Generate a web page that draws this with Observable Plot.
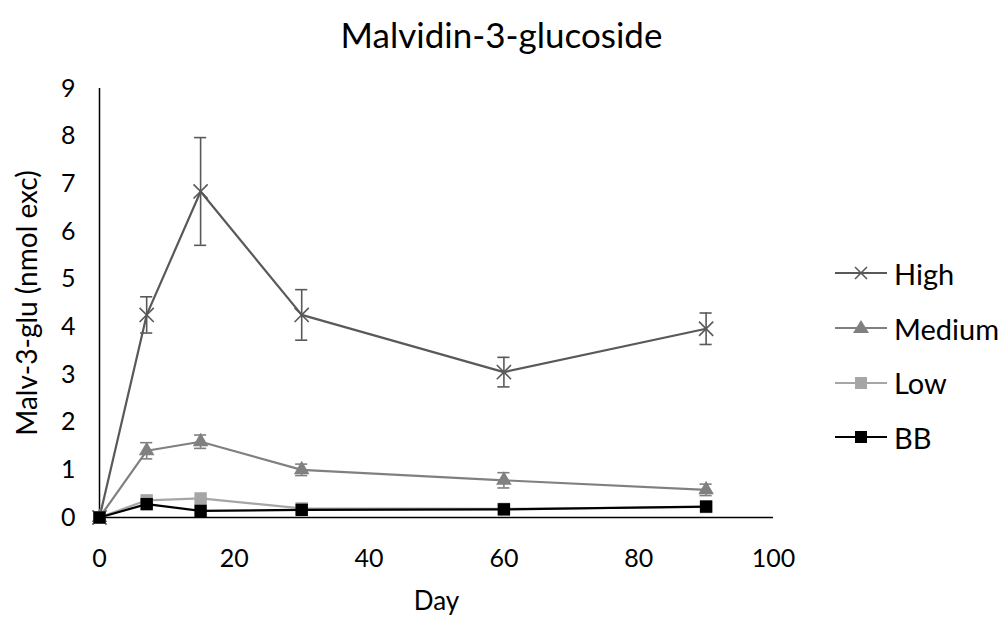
<!DOCTYPE html>
<html>
<head>
<meta charset="utf-8">
<script src="https://cdn.jsdelivr.net/npm/d3@7"></script>
<script src="https://cdn.jsdelivr.net/npm/@observablehq/plot@0.6"></script>
<style>
  html, body { margin: 0; padding: 0; background: #fff; }
  #wrap { position: relative; width: 1003px; height: 622px; font-family: Lato, "Open Sans", sans-serif; }
  #title { position: absolute; left: 0; width: 1003px; top: 11px; text-align: center; font-size: 35px; line-height: 46px; color: #000; }
  #legend { position: absolute; left: 835px; top: 246px; }
  .lg { display: flex; align-items: center; height: 54.7px; font-size: 29px; color: #000; }
  .lg svg { margin-right: 7px; }
</style>
</head>
<body>
<div id="wrap">
  <div id="chart"></div>
  <div id="title">Malvidin-3-glucoside</div>
  <div id="legend"></div>
</div>
<script>
const days = [0, 7, 15, 30, 60, 90];
const seriesNames = ["High", "Medium", "Low", "BB"];
const highVals = [0, 4.25, 6.84, 4.25, 3.05, 3.96];
const highErr = [0, 0.38, 1.13, 0.53, 0.31, 0.33];
const mediumVals = [0, 1.40, 1.59, 1.00, 0.78, 0.58];
const mediumErr = [0, 0.17, 0.14, 0.12, 0.16, 0.12];
const lowVals = [0, 0.36, 0.40, 0.19, 0.18, 0.22];
const lowErr = [0, 0, 0, 0, 0, 0];
const bbVals = [0, 0.28, 0.14, 0.16, 0.17, 0.23];
const bbErr = [0, 0, 0, 0, 0, 0];
const xTicks = [0, 20, 40, 60, 80, 100];
const yTicks = [0, 1, 2, 3, 4, 5, 6, 7, 8, 9];
const xLabel = "Day";
const yLabel = "Malv-3-glu (nmol exc)";

const colors = {High: "#595959", Medium: "#808080", Low: "#a6a6a6", BB: "#000000"};
const symbols = {High: "times", Medium: "triangle", Low: "square", BB: "square"};
const radius = {High: 6.5, Medium: 5.8, Low: 7, BB: 7};

const valsBy = {High: highVals, Medium: mediumVals, Low: lowVals, BB: bbVals};
const errBy = {High: highErr, Medium: mediumErr, Low: lowErr, BB: bbErr};
const rows = seriesNames.map(s => days.map((d, i) => ({series: s, day: d, value: valsBy[s][i], err: errBy[s][i]})));
const capHalf = 0.9;

const marks = [];
for (const data of rows) {
  const s = data[0].series;
  const c = colors[s];
  marks.push(Plot.line(data, {x: "day", y: "value", stroke: c, strokeWidth: 2.2}));
  const ed = data.filter(d => d.err > 0);
  marks.push(Plot.ruleX(ed, {x: "day", y1: d => d.value - d.err, y2: d => d.value + d.err, stroke: c, strokeWidth: 1.6}));
  marks.push(Plot.ruleY(ed, {y: d => d.value + d.err, x1: d => d.day - capHalf, x2: d => d.day + capHalf, stroke: c, strokeWidth: 1.6}));
  marks.push(Plot.ruleY(ed, {y: d => d.value - d.err, x1: d => d.day - capHalf, x2: d => d.day + capHalf, stroke: c, strokeWidth: 1.6}));
  if (symbols[s] === "times") {
    marks.push(Plot.dot(data, {x: "day", y: "value", symbol: "times", r: radius[s], stroke: c, strokeWidth: 1.6}));
  } else {
    marks.push(Plot.dot(data, {x: "day", y: "value", symbol: symbols[s], r: radius[s], fill: c, stroke: "none"}));
  }
}

const plot = Plot.plot({
  width: 1003,
  height: 622,
  marginLeft: 99,
  marginRight: 230,
  marginTop: 88,
  marginBottom: 105,
  style: {fontFamily: "Lato, 'Open Sans', sans-serif", fontSize: "25px", color: "#000", background: "#fff"},
  x: {domain: [0, 100]},
  y: {domain: [0, 9]},
  marks: [
    Plot.axisX({ticks: xTicks, tickSize: 0, tickPadding: 32, label: null, fontSize: 25}),
    Plot.axisY({ticks: yTicks, tickSize: 0, tickPadding: 24, label: null, fontSize: 25}),
    Plot.text([xLabel], {frameAnchor: "bottom", dy: 92, fontSize: 26, fill: "#000"}),
    Plot.text([yLabel], {frameAnchor: "left", textAnchor: "middle", rotate: -90, dx: -71, fontSize: 28, fill: "#000"}),
    Plot.ruleY([0], {stroke: "#000", strokeWidth: 1.5}),
    Plot.ruleX([0], {stroke: "#000", strokeWidth: 1.5}),
    ...marks
  ]
});
document.getElementById("chart").appendChild(plot);

// Legend
const legend = document.getElementById("legend");
for (const s of seriesNames) {
  const row = document.createElement("div");
  row.className = "lg";
  const c = colors[s];
  let sym;
  if (s === "High") {
    sym = `<line x1="20" y1="20" x2="32" y2="32" stroke="${c}" stroke-width="1.6"/><line x1="20" y1="32" x2="32" y2="20" stroke="${c}" stroke-width="1.6"/>`;
  } else if (s === "Medium") {
    sym = `<polygon points="26,18 34,31 18,31" fill="${c}"/>`;
  } else {
    sym = `<rect x="20" y="20" width="12" height="12" fill="${c}"/>`;
  }
  row.innerHTML = `<svg width="52" height="52" viewBox="0 0 52 52"><line x1="0" y1="26" x2="52" y2="26" stroke="${c}" stroke-width="2.2"/>${sym}</svg><span>${s}</span>`;
  legend.appendChild(row);
}
</script>
</body>
</html>
